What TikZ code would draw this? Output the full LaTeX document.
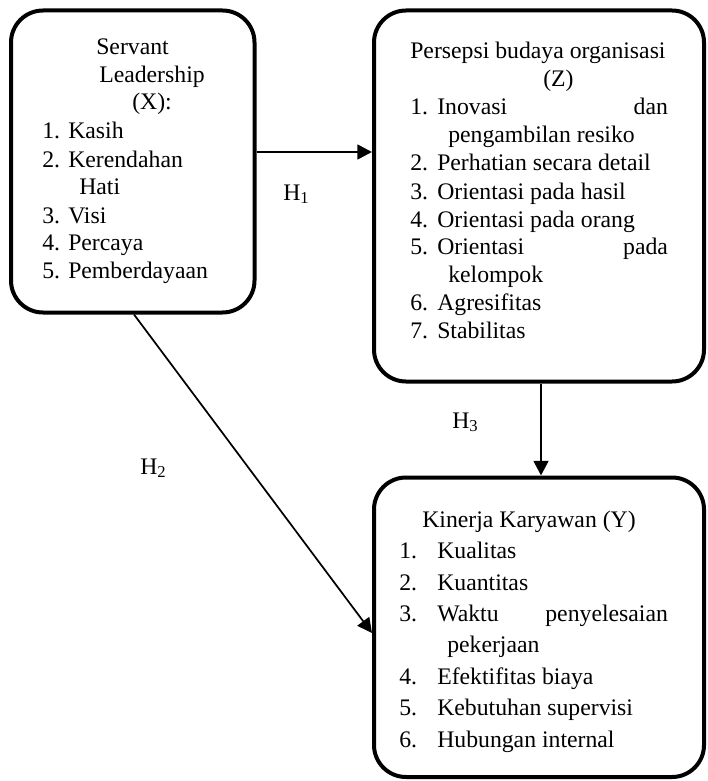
\documentclass[tikz,border=0pt]{standalone}
\usepackage{fontspec}
\setmainfont{Liberation Serif}
\usetikzlibrary{arrows.meta,fit}
\newcommand{\numitem}[3]{\makebox[#1][l]{#2}#3}
\begin{document}
\begin{tikzpicture}[x=0.75pt,y=-0.75pt,
  box/.style={draw,line width=3pt,rounded corners=24pt,inner sep=0pt},
  txt/.style={anchor=base west,inner sep=0pt,font=\fontsize{17.8}{20}\selectfont},
  arr/.style={line width=2pt,-{Triangle[length=11pt,width=11pt]}},
  thinarr/.style={line width=1.3pt,-{Triangle[length=11pt,width=11pt]}}]
\useasboundingbox (0,0) rectangle (707,781);
% boxes
\node[box,fit={(11,10.5) (254.5,312.5)}] (X) {};
\node[box,fit={(374,10.5) (704,381.5)}] (Z) {};
\node[box,fit={(374,477.5) (704,777)}] (Y) {};
% box X text
\node[txt] (x1) at (96,55) {Servant};
\node[txt] (x2) at (99,83) {Leadership};
\node[txt] (x3) at (132,110) {(X):};
\node[txt] (x4) at (42,139) {\numitem{19.5pt}{1.}{Kasih}};
\node[txt] (x5) at (42,167) {\numitem{19.5pt}{2.}{Kerendahan}};
\node[txt] (x6) at (79,195) {Hati};
\node[txt] (x7) at (42,223) {\numitem{19.5pt}{3.}{Visi}};
\node[txt] (x8) at (42,250) {\numitem{19.5pt}{4.}{Percaya}};
\node[txt] (x9) at (42,278) {\numitem{19.5pt}{5.}{Pemberdayaan}};
% box Z text
\node[txt] (z1) at (410,59) {Persepsi budaya organisasi};
\node[txt] (z2) at (543,87) {(Z)};
\node[txt] (z3) at (410,115) {\numitem{20.25pt}{1.}{\makebox[173pt][l]{Inovasi\hfill dan}}};
\node[txt] (z4) at (448,143) {pengambilan resiko};
\node[txt] (z5) at (410,171) {\numitem{20.25pt}{2.}{Perhatian secara detail}};
\node[txt] (z6) at (410,199) {\numitem{20.25pt}{3.}{Orientasi pada hasil}};
\node[txt] (z7) at (410,227) {\numitem{20.25pt}{4.}{Orientasi pada orang}};
\node[txt] (z8) at (410,254) {\numitem{20.25pt}{5.}{\makebox[173pt][l]{Orientasi\hfill pada}}};
\node[txt] (z9) at (448,282) {kelompok};
\node[txt] (z10) at (410,310) {\numitem{20.25pt}{6.}{Agresifitas}};
\node[txt] (z11) at (410,338) {\numitem{20.25pt}{7.}{Stabilitas}};
% box Y text
\node[txt] (y1) at (422,527) {Kinerja Karyawan (Y)};
\node[txt] (y2) at (399,558) {\numitem{28.5pt}{1.}{Kualitas}};
\node[txt] (y3) at (399,590) {\numitem{28.5pt}{2.}{Kuantitas}};
\node[txt] (y4) at (399,621) {\numitem{28.5pt}{3.}{\makebox[173pt][l]{Waktu\hfill penyelesaian}}};
\node[txt] (y5) at (447,652) {pekerjaan};
\node[txt] (y6) at (399,684) {\numitem{28.5pt}{4.}{Efektifitas biaya}};
\node[txt] (y7) at (399,715) {\numitem{28.5pt}{5.}{Kebutuhan supervisi}};
\node[txt] (y8) at (399,747) {\numitem{28.5pt}{6.}{Hubungan internal}};
% hypothesis labels
\node[txt] (h1) at (283,200) {H\textsubscript{1}};
\node[txt] (h2) at (140,474) {H\textsubscript{2}};
\node[txt] (h3) at (452,428) {H\textsubscript{3}};
% connectors
\draw[arr] (X.east |- 0,152) -- (Z.west |- 0,152);
\draw[arr] (Z.south -| 541,0) -- (Y.north -| 541,0);
\draw[thinarr] (X.south -| 134,0) -- (Y.west |- 0,633);
\end{tikzpicture}
\end{document}
